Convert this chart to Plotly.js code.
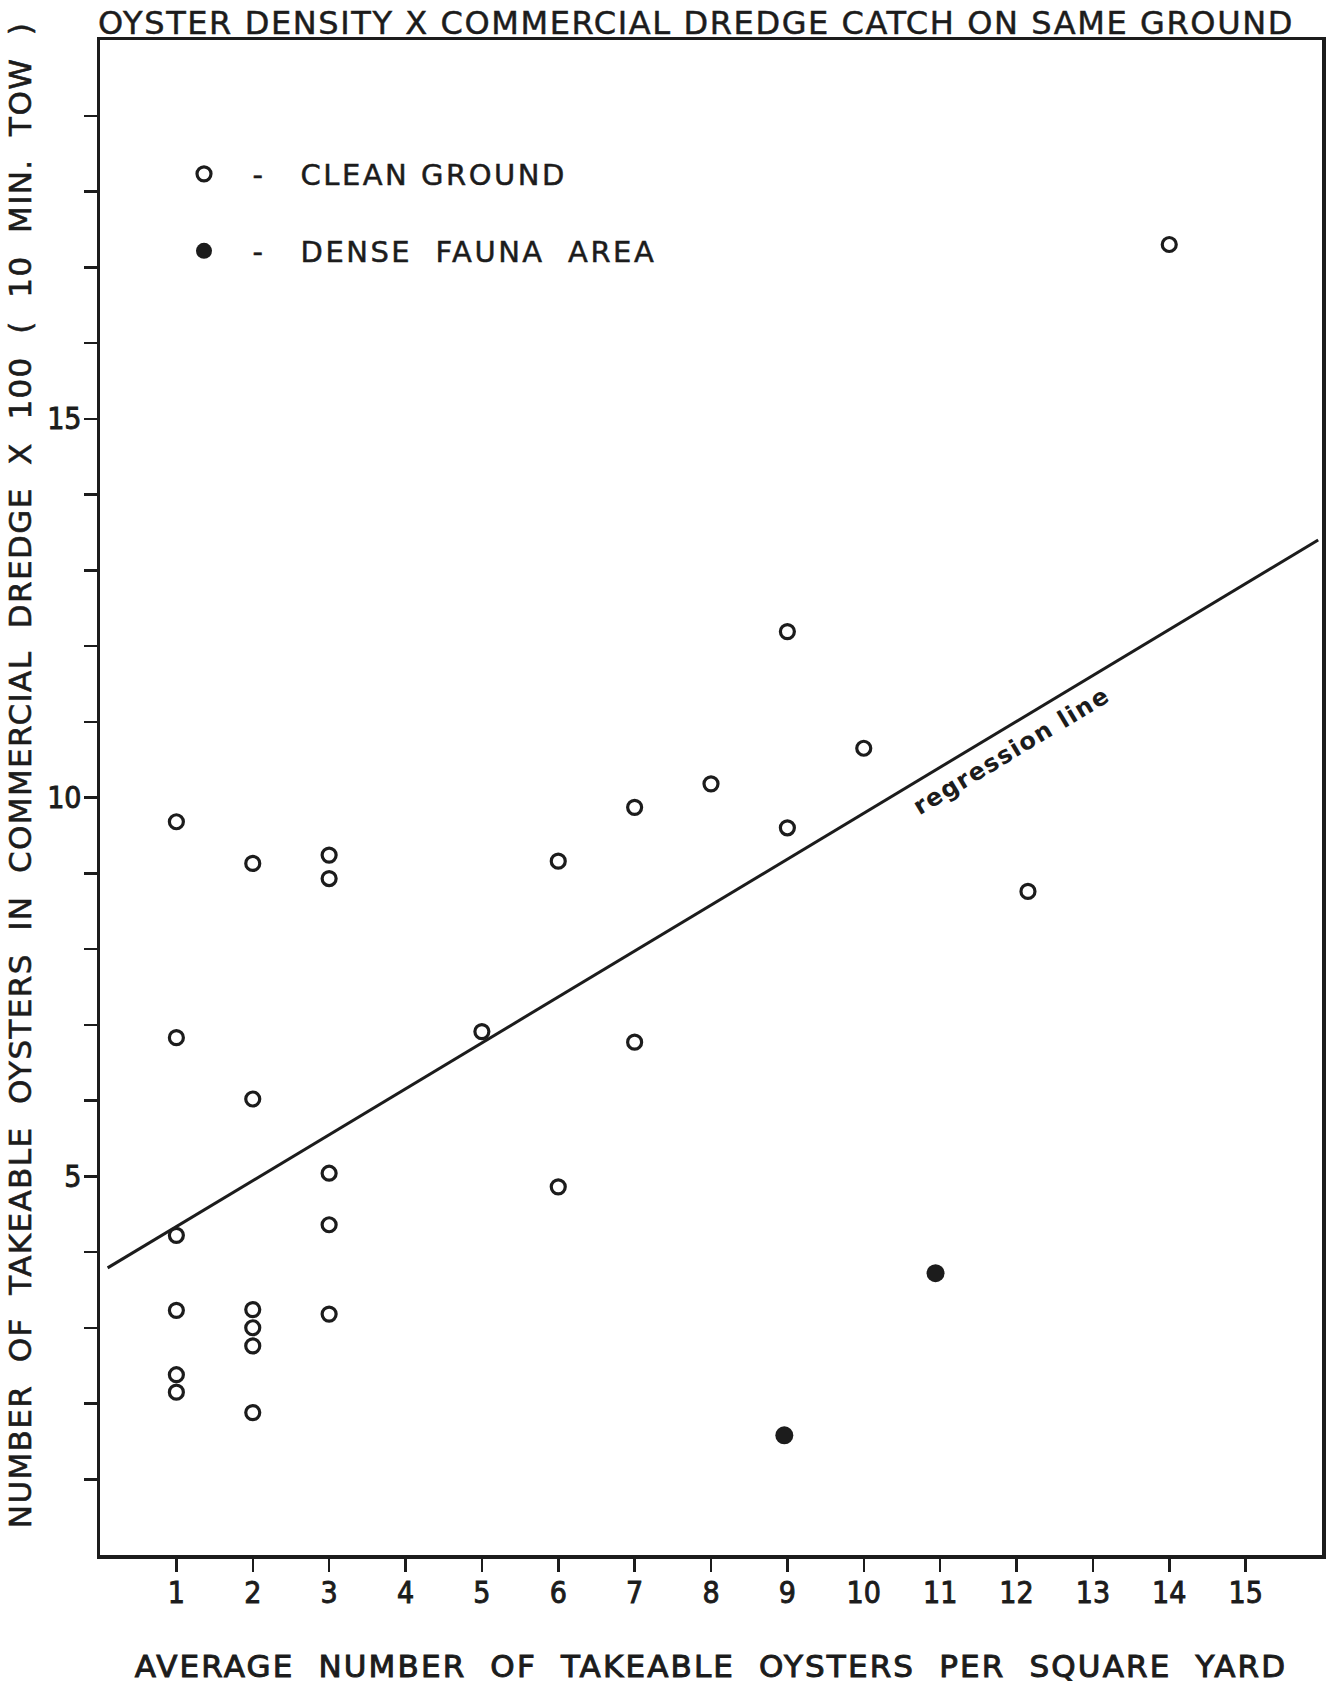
<!DOCTYPE html>
<html>
<head>
<meta charset="utf-8">
<script src="https://cdn.plot.ly/plotly-3.0.1.min.js"></script>
<style>
  body { margin: 0; background: #fff; }
  #chart { width: 1327px; height: 1684px; }
  .gtitle { letter-spacing: 1.6px; stroke: #1c1c1c; stroke-width: 0.5px; }
  .xtitle { letter-spacing: 2.15px; stroke: #1c1c1c; stroke-width: 1px; }
  .ytitle { letter-spacing: 1.4px; stroke: #1c1c1c; stroke-width: 0.6px; }
  .legendtext, .legend2text { letter-spacing: 2.5px; stroke: #1c1c1c; stroke-width: 0.5px; }
  .xtick text, .ytick text { stroke: #1c1c1c; stroke-width: 0.9px; }
  .annotation-text { letter-spacing: 1.5px; }
</style>
</head>
<body>
<div id="chart"></div>
<script>
// Clean ground (open circles)
const cleanX = [1, 1, 1, 1, 1, 1, 2, 2, 2, 2, 2, 2, 3, 3, 3, 3, 3, 5, 6, 6, 7, 7, 8, 9, 9, 10, 12.15, 14];
const cleanY = [9.68, 6.83, 4.22, 3.23, 2.38, 2.15, 9.13, 6.02, 3.24, 3.0, 2.76, 1.88, 9.24, 8.93, 5.04, 4.36, 3.18, 6.91, 9.16, 4.86, 9.87, 6.77, 10.18, 12.19, 9.6, 10.65, 8.76, 17.3];
// Dense fauna area (filled circles)
const denseX = [8.96, 10.94];
const denseY = [1.58, 3.72];
// Regression line end points
const regX = [0.1, 15.95];
const regY = [3.79, 13.4];
// Axis ticks
const xTickVals = [1, 2, 3, 4, 5, 6, 7, 8, 9, 10, 11, 12, 13, 14, 15];
const xTickText = ['1', '2', '3', '4', '5', '6', '7', '8', '9', '10', '11', '12', '13', '14', '15'];
const yTickVals = [1, 2, 3, 4, 5, 6, 7, 8, 9, 10, 11, 12, 13, 14, 15, 16, 17, 18, 19];
const yTickText = ['', '', '', '', '5', '', '', '', '', '10', '', '', '', '', '15', '', '', '', ''];
// Texts
const titleText = 'OYSTER DENSITY X COMMERCIAL DREDGE CATCH ON SAME GROUND';
const xTitleText = 'AVERAGE  NUMBER  OF  TAKEABLE  OYSTERS  PER  SQUARE  YARD';
const yTitleText = '\u200B    NUMBER  OF  TAKEABLE  OYSTERS  IN  COMMERCIAL  DREDGE  X  100  (  10  MIN.  TOW  )';
const cleanName = '  -   CLEAN GROUND';
const denseName = '  -   DENSE  FAUNA  AREA';
const regLabel = 'regression line';

const FONT = 'DejaVu Sans, Liberation Sans, sans-serif';
const TICKFONT = 'DejaVu Sans Condensed, DejaVu Sans, sans-serif';
const INK = '#1c1c1c';

const traces = [
  {
    x: regX, y: regY, type: 'scatter', mode: 'lines',
    line: { color: INK, width: 3 }, showlegend: false, hoverinfo: 'skip'
  },
  {
    x: cleanX, y: cleanY, type: 'scatter', mode: 'markers', name: cleanName,
    marker: { symbol: 'circle-open', size: 14, color: INK, line: { width: 3.2, color: INK } },
    legend: 'legend'
  },
  {
    x: denseX, y: denseY, type: 'scatter', mode: 'markers', name: denseName,
    marker: { symbol: 'circle', size: 18, color: INK },
    legend: 'legend2'
  }
];

const legendCommon = {
  bgcolor: 'rgba(0,0,0,0)', borderwidth: 0,
  font: { family: FONT, size: 29, color: INK },
  xanchor: 'left', yanchor: 'middle', itemsizing: 'trace', itemwidth: 40
};

const layout = {
  width: 1327, height: 1684,
  paper_bgcolor: '#fff', plot_bgcolor: '#fff',
  margin: { l: 100, r: 5, t: 40, b: 129 },
  title: {
    text: titleText,
    font: { family: FONT, size: 32, color: INK },
    x: 696 / 1327, xanchor: 'center', xref: 'container',
    y: 1 - 23 / 1684, yanchor: 'middle', yref: 'container'
  },
  xaxis: {
    range: [0, 16], showgrid: false, zeroline: false,
    showline: true, mirror: true, linewidth: 3.5, linecolor: INK,
    ticks: 'outside', ticklen: 13, tickwidth: 2.5, tickcolor: INK,
    tickmode: 'array', tickvals: xTickVals, ticktext: xTickText,
    tickfont: { family: TICKFONT, size: 30, color: INK },
    ticklabelstandoff: -5,
    title: { text: xTitleText, font: { family: FONT, size: 31, color: INK }, standoff: 50 },
    automargin: false
  },
  yaxis: {
    range: [0, 20], showgrid: false, zeroline: false,
    showline: true, mirror: true, linewidth: 3.5, linecolor: INK,
    ticks: 'outside', ticklen: 13, tickwidth: 2.5, tickcolor: INK,
    tickmode: 'array', tickvals: yTickVals, ticktext: yTickText,
    tickfont: { family: TICKFONT, size: 30, color: INK },
    ticklabelstandoff: -4,
    title: { text: yTitleText, font: { family: FONT, size: 31, color: INK }, standoff: 7 },
    automargin: false
  },
  legend: Object.assign({}, legendCommon, { x: 79 / 1222, y: (1555 - 174) / 1515 }),
  legend2: Object.assign({}, legendCommon, { x: 79 / 1222, y: (1555 - 251) / 1515 }),
  annotations: [
    {
      x: 11.93, y: 10.62, xref: 'x', yref: 'y', text: regLabel, showarrow: false,
      textangle: -31, font: { family: FONT, size: 24, color: INK, weight: 'bold' },
      xanchor: 'center', yanchor: 'middle'
    }
  ],
  showlegend: true
};

Plotly.newPlot('chart', traces, layout, { displayModeBar: false, staticPlot: true });
</script>
</body>
</html>
